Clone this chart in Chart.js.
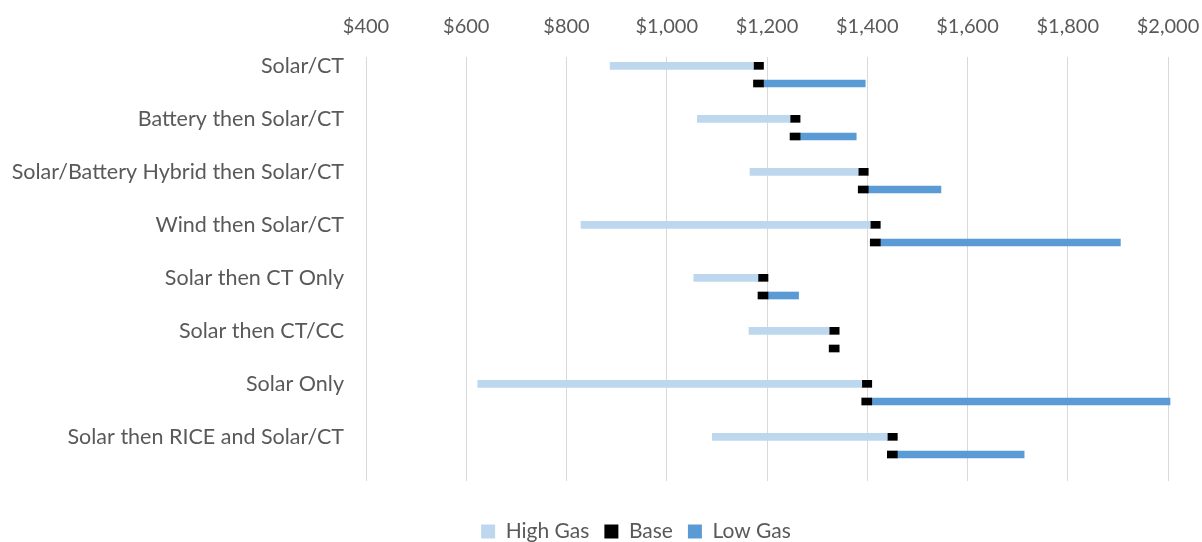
<!DOCTYPE html>
<html>
<head>
<meta charset="utf-8">
<script src="https://cdn.jsdelivr.net/npm/chart.js@4.4.1/dist/chart.umd.min.js"></script>
<style>
  html, body { margin: 0; padding: 0; background: #ffffff; }
  #wrap { width: 1202px; height: 542px; position: relative; }
</style>
</head>
<body>
<div id="wrap"><canvas id="chart" width="1202" height="542"></canvas></div>
<script>
// Portfolio cost under three gas price scenarios ($)
const categories = [
  'Solar/CT',
  'Battery then Solar/CT',
  'Solar/Battery Hybrid then Solar/CT',
  'Wind then Solar/CT',
  'Solar then CT Only',
  'Solar then CT/CC',
  'Solar Only',
  'Solar then RICE and Solar/CT'
];
const highGas = [887, 1061, 1166, 829, 1054, 1164, 623, 1091];
const base    = [1183, 1256, 1392, 1416, 1192, 1334, 1399, 1450];
const lowGas  = [1396, 1378, 1547, 1905, 1263, 1334, 2004, 1713];
const tickValues = [400, 600, 800, 1000, 1200, 1400, 1600, 1800, 2000];

// Each scenario gets three rows: high-gas range, low-gas range, spacer.
const MARK = 10; // half width of the base marker, in $
const rowLabels = [];
const highRows = [], baseRows = [], lowRows = [];
categories.forEach((c, i) => {
  rowLabels.push(c, '', '');
  highRows.push([highGas[i], base[i] - MARK], null, null);
  baseRows.push([base[i] - MARK, base[i] + MARK], [base[i] - MARK, base[i] + MARK], null);
  lowRows.push(null, lowGas[i] > base[i] + MARK ? [base[i] + MARK, lowGas[i]] : null, null);
});

const TEXT = '#595959';
const money = v => '$' + Number(v).toLocaleString('en-US');

// Nudge the legend block down and to the right of its default centred spot.
const legendOffset = {
  id: 'legendOffset',
  afterLayout(chart) {
    const l = chart.legend;
    if (!l) return;
    l.top += 25; l.bottom += 25;
    l.left += 52; l.right += 52;
  }
};

new Chart(document.getElementById('chart'), {
  type: 'bar',
  data: {
    labels: rowLabels,
    datasets: [
      { label: 'High Gas', data: highRows, backgroundColor: '#BDD7EE', barThickness: 7 },
      { label: 'Base', data: baseRows, backgroundColor: '#000000', barThickness: 7 },
      { label: 'Low Gas', data: lowRows, backgroundColor: '#5B9BD5', barThickness: 7, clip: false }
    ]
  },
  plugins: [legendOffset],
  options: {
    indexAxis: 'y',
    responsive: false,
    animation: false,
    layout: { padding: { left: 0, right: 34, top: 0, bottom: 15 } },
    scales: {
      x: {
        position: 'top',
        min: 400,
        max: 2000,
        stacked: false,
        afterBuildTicks: s => { s.ticks = tickValues.map(v => ({ value: v })); },
        afterFit: s => { s.height = 57; s.paddingLeft = 0; s.paddingRight = 0; },
        ticks: { callback: v => money(v), font: { family: 'Lato', size: 20 }, color: TEXT, padding: 18, maxRotation: 0 },
        grid: { color: '#D9D9D9', lineWidth: 1, drawTicks: false },
        border: { display: false }
      },
      y: {
        stacked: true,
        afterFit: s => { s.width = 366; },
        ticks: { autoSkip: false, font: { family: 'Lato', size: 21.5 }, color: TEXT, padding: 22 },
        grid: { display: false, drawTicks: false },
        border: { display: false }
      }
    },
    plugins: {
      legend: {
        position: 'bottom',
        labels: { font: { family: 'Lato', size: 21 }, color: TEXT, boxWidth: 14, boxHeight: 14, padding: 15 }
      },
      tooltip: { enabled: false }
    }
  }
});
</script>
</body>
</html>
